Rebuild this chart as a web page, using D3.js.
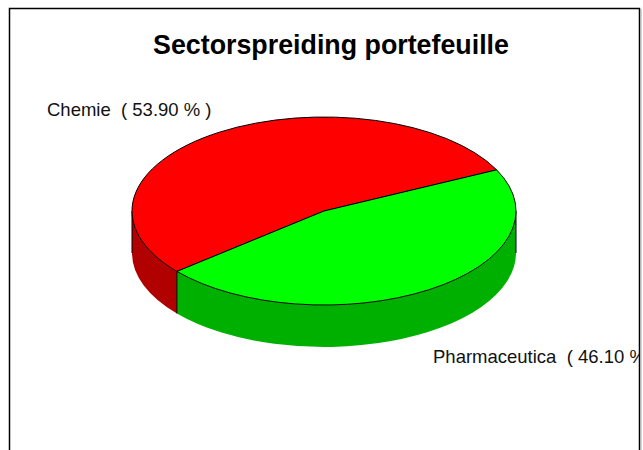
<!DOCTYPE html>
<html>
<head>
<meta charset="utf-8">
<script src="https://cdn.jsdelivr.net/npm/d3@7"></script>
<style>
  body { margin: 0; background: #fff; }
  svg { display: block; font-family: "Liberation Sans", Arial, sans-serif; }
</style>
</head>
<body>
<div id="chart"></div>
<script>
// chart data
const categories = ['Chemie', 'Pharmaceutica'];
const values = [53.90, 46.10];
const topColors = ['#ff0000', '#00ff00'];
const sideColors = ['#b00000', '#00b000'];
const title = 'Sectorspreiding portefeuille';

const width = 643, height = 450;
const cx = 324, cy = 211, rx = 192, ry = 94, depth = 42;

const svg = d3.select('#chart').append('svg')
    .attr('width', width)
    .attr('height', height);

svg.append('defs').append('clipPath').attr('id', 'frameClip')
  .append('rect').attr('x', 0).attr('y', 0).attr('width', 639).attr('height', height);

// outer frame (runs past the bottom of the picture)
svg.append('path')
    .attr('d', 'M9.5,470V8.5H639.5V470')
    .attr('fill', 'none')
    .attr('stroke', '#000')
    .attr('stroke-width', 1.5);
svg.append('line')
    .attr('x1', 641).attr('x2', 641).attr('y1', 9).attr('y2', 470)
    .attr('stroke', '#aaa').attr('stroke-width', 1);

svg.append('text')
    .attr('x', 331)
    .attr('y', 54)
    .attr('text-anchor', 'middle')
    .attr('font-size', 26.8)
    .attr('font-weight', 'bold')
    .text(title);

// pie angles (d3: 0 = 12 o'clock, clockwise)
const start = 230 * Math.PI / 180;
const pie = d3.pie().sort(null).startAngle(start).endAngle(start + 2 * Math.PI);
const arcs = pie(values);

// angle -> point on the ellipse (top face or bottom face)
const pt = (a, dy = 0) => {
  const t = a - Math.PI / 2;
  return [cx + rx * Math.cos(t), cy + ry * Math.sin(t) + dy];
};

const g = svg.append('g');

// visible side walls: the front half of the ellipse
const sides = [];
arcs.forEach((d, i) => {
  const t0 = d.startAngle - Math.PI / 2, t1 = d.endAngle - Math.PI / 2;
  for (let k = -1; k <= 2; k++) {
    const lo = Math.max(t0, 2 * Math.PI * k), hi = Math.min(t1, 2 * Math.PI * k + Math.PI);
    if (hi > lo) sides.push({i, lo: lo + Math.PI / 2, hi: hi + Math.PI / 2});
  }
});

g.selectAll('path.side')
  .data(sides)
  .join('path')
    .attr('class', 'side')
    .attr('fill', d => sideColors[d.i])
    .attr('d', d => {
      const a = pt(d.lo), b = pt(d.hi), c = pt(d.hi, depth), e = pt(d.lo, depth);
      return `M${a}A${rx},${ry} 0 0 1 ${b}L${c}A${rx},${ry} 0 0 0 ${e}Z`;
    });

// vertical edges: slice borders in front and the two outer edges
const edges = [Math.PI / 2, 3 * Math.PI / 2];
arcs.forEach(d => {
  const t = ((d.startAngle - Math.PI / 2) % (2 * Math.PI) + 2 * Math.PI) % (2 * Math.PI);
  if (t > 0 && t < Math.PI) edges.push(d.startAngle);
});
g.selectAll('line.edge')
  .data(edges)
  .join('line')
    .attr('class', 'edge')
    .attr('x1', a => pt(a)[0]).attr('y1', a => pt(a)[1])
    .attr('x2', a => pt(a, depth)[0]).attr('y2', a => pt(a, depth)[1])
    .attr('stroke', '#000')
    .attr('stroke-width', 1);

// top face
g.selectAll('path.top')
  .data(arcs)
  .join('path')
    .attr('class', 'top')
    .attr('fill', (d, i) => topColors[i])
    .attr('stroke', '#000')
    .attr('stroke-width', 1)
    .attr('stroke-linejoin', 'round')
    .attr('d', d => {
      const large = d.endAngle - d.startAngle > Math.PI ? 1 : 0;
      return `M${cx},${cy}L${pt(d.startAngle)}A${rx},${ry} 0 ${large} 1 ${pt(d.endAngle)}Z`;
    });

// slice labels
const labelPos = [[47, 116], [433, 363]];
svg.append('g')
    .attr('clip-path', 'url(#frameClip)')
  .selectAll('text')
  .data(categories)
  .join('text')
    .attr('x', (d, i) => labelPos[i][0])
    .attr('y', (d, i) => labelPos[i][1])
    .attr('font-size', 18.5)
    .attr('fill', '#111')
    .style('white-space', 'pre')
    .text((d, i) => `${d}  ( ${values[i].toFixed(2)} % )`);
</script>
</body>
</html>
